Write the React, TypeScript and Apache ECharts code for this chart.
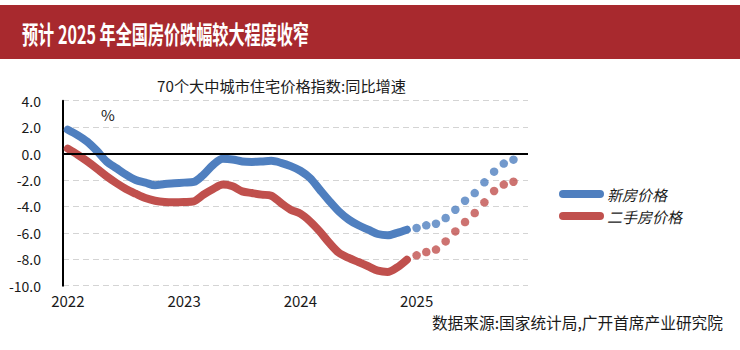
import React, { useEffect, useRef } from "react";
import * as echarts from "echarts";

const titleText = "预计 2025 年全国房价跌幅较大程度收窄";
const subtitleText = "70个大中城市住宅价格指数:同比增速";
const sourceText = "数据来源:国家统计局,广开首席产业研究院";
const unitText = "%";
const legendNames = ["新房价格", "二手房价格"];
const years = ["2022", "2023", "2024", "2025"];
const months = ["01", "02", "03", "04", "05", "06", "07", "08", "09", "10", "11", "12"];

const newActual = [
  1.8, 1.4, 0.9, 0.2, -0.6, -1.1, -1.6, -2.0, -2.2, -2.4, -2.3, -2.25,
  -2.2, -2.15, -1.6, -0.85, -0.4, -0.45, -0.6, -0.63, -0.6, -0.55, -0.7, -0.95,
  -1.3, -1.85, -2.73, -3.6, -4.4, -5.0, -5.43, -5.76, -6.09, -6.19, -6.0, -5.76,
];
const newForecast = [-5.63, -5.43, -5.31, -4.88, -4.25, -3.57, -2.99, -2.18, -1.37, -0.76, -0.46];

const usedActual = [
  0.37, -0.08, -0.59, -1.14, -1.72, -2.23, -2.68, -3.04, -3.37, -3.57, -3.67, -3.69,
  -3.67, -3.62, -3.11, -2.68, -2.35, -2.48, -2.86, -2.99, -3.11, -3.19, -3.74, -4.25,
  -4.55, -5.13, -5.89, -6.77, -7.52, -7.9, -8.21, -8.53, -8.86, -8.96, -8.61, -8.03,
];
const usedForecast = [-7.7, -7.45, -7.27, -6.65, -5.89, -5.18, -4.5, -3.69, -2.83, -2.35, -2.13];

const BLUE = "#4f7fbf";
const RED = "#c0504d";
const FONT = "Noto Sans CJK SC";

export default function App() {
  const ref = useRef<HTMLDivElement>(null);
  useEffect(() => {
    if (!ref.current) return;
    const chart = echarts.init(ref.current, undefined, { renderer: "svg" });
    const categories: string[] = [];
    years.forEach((y) => months.forEach((m) => categories.push(y + "-" + m)));
    const pad = (n: number) => new Array(n).fill("-");
    const newF = pad(newActual.length).concat(newForecast as any);
    const usedF = pad(usedActual.length).concat(usedForecast as any);

    chart.setOption({
      animation: false,
      backgroundColor: "#ffffff",
      grid: { left: 63, right: 212, top: 100.7, bottom: 64.3, containLabel: false },
      xAxis: {
        type: "category",
        data: categories,
        boundaryGap: true,
        axisLine: { show: false },
        axisTick: { show: false },
        splitLine: { show: false },
        axisLabel: {
          interval: (index: number) => index % 12 === 0,
          formatter: (v: string) => v.slice(0, 4),
          color: "#1a1a1a",
          fontSize: 15,
          fontFamily: FONT,
          margin: 7,
        },
      },
      yAxis: {
        type: "value",
        min: -10,
        max: 4,
        interval: 2,
        axisLine: { show: true, lineStyle: { color: "#000", width: 2 } },
        axisTick: { show: false },
        axisLabel: {
          formatter: (v: number) => v.toFixed(1),
          color: "#1a1a1a",
          fontSize: 14,
          fontFamily: FONT,
          margin: 22,
        },
        splitLine: { show: true, lineStyle: { color: "#d4d4d4", width: 1, type: [6, 4] } },
      },
      series: [
        {
          name: legendNames[0],
          type: "line",
          data: newActual,
          smooth: 0.3,
          showSymbol: false,
          lineStyle: { color: BLUE, width: 8, cap: "round", join: "round" },
          itemStyle: { color: BLUE },
          z: 3,
          markLine: {
            silent: true,
            symbol: "none",
            label: { show: false },
            lineStyle: { color: "#000", width: 2, type: "solid" },
            data: [{ yAxis: 0 }],
          },
        },
        {
          name: legendNames[1],
          type: "line",
          data: usedActual,
          smooth: 0.3,
          showSymbol: false,
          lineStyle: { color: RED, width: 8, cap: "round", join: "round" },
          itemStyle: { color: RED },
          z: 3,
        },
        {
          name: legendNames[0] + "预测",
          type: "scatter",
          data: newF,
          symbol: "circle",
          symbolSize: 8.5,
          itemStyle: { color: BLUE },
          z: 4,
        },
        {
          name: legendNames[1] + "预测",
          type: "scatter",
          data: usedF,
          symbol: "circle",
          symbolSize: 8.5,
          itemStyle: { color: RED },
          z: 4,
        },
      ],
      graphic: [
        {
          type: "rect",
          shape: { x: 0, y: 5, width: 740, height: 54 },
          style: { fill: "#a8292e" },
          silent: true,
        },
        {
          type: "text",
          x: 22,
          y: 33,
          scaleX: 0.645,
          style: {
            text: titleText,
            fill: "#ffffff",
            font: `bold 25px "${FONT}"`,
            verticalAlign: "middle",
            align: "left",
          },
          silent: true,
        },
        {
          type: "text",
          x: 281.5,
          y: 85,
          style: {
            text: subtitleText,
            fill: "#1a1a1a",
            font: `15.2px "${FONT}"`,
            verticalAlign: "middle",
            align: "center",
          },
          silent: true,
        },
        {
          type: "text",
          x: 108,
          y: 114,
          style: {
            text: unitText,
            fill: "#1a1a1a",
            font: `15px "${FONT}"`,
            verticalAlign: "middle",
            align: "center",
          },
          silent: true,
        },
        {
          type: "line",
          shape: { x1: 563, y1: 194, x2: 600, y2: 194 },
          style: { stroke: BLUE, lineWidth: 8, lineCap: "round" },
          silent: true,
        },
        {
          type: "line",
          shape: { x1: 563, y1: 216, x2: 600, y2: 216 },
          style: { stroke: RED, lineWidth: 8, lineCap: "round" },
          silent: true,
        },
        {
          type: "text",
          x: 607,
          y: 194,
          style: {
            text: legendNames[0],
            fill: "#1a1a1a",
            font: `italic 15px "${FONT}"`,
            verticalAlign: "middle",
            align: "left",
          },
          silent: true,
        },
        {
          type: "text",
          x: 607,
          y: 216,
          style: {
            text: legendNames[1],
            fill: "#1a1a1a",
            font: `italic 15px "${FONT}"`,
            verticalAlign: "middle",
            align: "left",
          },
          silent: true,
        },
        {
          type: "text",
          x: 723,
          y: 322,
          style: {
            text: sourceText,
            fill: "#1a1a1a",
            font: `15.7px "${FONT}"`,
            verticalAlign: "middle",
            align: "right",
          },
          silent: true,
        },
      ],
    });
    return () => chart.dispose();
  }, []);
  return (
    <div
      ref={ref}
      style={{ width: 740, height: 350, position: "absolute", left: 0, top: 0 }}
    />
  );
}
